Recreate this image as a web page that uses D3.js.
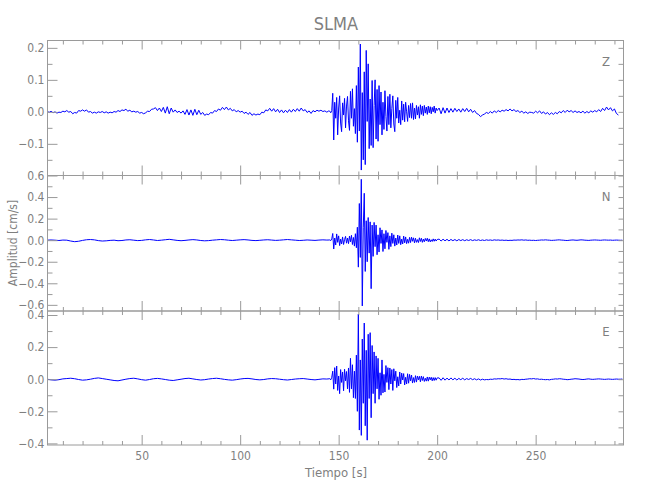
<!DOCTYPE html>
<html>
<head>
<meta charset="utf-8">
<script src="https://cdn.jsdelivr.net/npm/d3@7"></script>
<style>
  html, body { margin: 0; padding: 0; background: #fff; }
  svg { display: block; }
  text { font-family: "Liberation Sans Narrow", "DejaVu Sans Condensed", "Noto Sans", sans-serif; fill: #7f7f7f; }
</style>
</head>
<body>
<svg id="chart" width="650" height="500"></svg>
<script>
// ---------------- DATA ----------------
const title = "SLMA";
const components = ["Z", "N", "E"];
const xLabel = "Tiempo [s]";
const yLabel = "Amplitud [cm/s]";

const xMajorTicks = [50, 100, 150, 200, 250];
const xMinorTicks = [10, 20, 30, 40, 60, 70, 80, 90, 110, 120, 130, 140, 160, 170, 180, 190, 210, 220, 230, 240, 260, 270, 280, 290];

const zMajorTicks = [-0.1, 0.0, 0.1, 0.2];
const zMinorTicks = [-0.15, -0.05, 0.05, 0.15];
const nMajorTicks = [-0.6, -0.4, -0.2, 0.0, 0.2, 0.4, 0.6];
const nMinorTicks = [-0.5, -0.3, -0.1, 0.1, 0.3, 0.5];
const eMajorTicks = [-0.4, -0.2, 0.0, 0.2, 0.4];
const eMinorTicks = [-0.3, -0.1, 0.1, 0.3];

const timeDomain = [2.2, 294.6];
const zRange = [-0.199, 0.223];
const nRange = [-0.657, 0.6];
const eRange = [-0.41, 0.425];

// segment sampling [start time, step] for quiet / burst / coda
const zSegments = [[2, 1], [145.5, 0.5], [201, 1]];
const nSegments = [[2, 2], [145.5, 0.5], [201, 1]];
const eSegments = [[2, 2], [145.5, 0.5], [201, 1]];

const zQuiet = [.003,-.002,.002,-.003,.000,-.004,-.001,-.002,.002,.000,.004,-.001,.001,-.006,-.002,-.004,.004,.002,.006,.002,
.006,-.001,.001,-.004,-.001,-.004,.000,-.002,.001,-.003,.000,-.004,-.001,-.003,.001,-.001,.004,.001,.006,.004,
.008,.002,.005,.000,.002,-.001,.001,-.004,-.002,-.006,-.003,.002,.001,.008,.009,.013,.004,.012,.001,.014,
-.004,.016,-.006,.012,-.001,.006,-.002,.002,-.004,.003,-.008,.007,-.010,.006,-.011,.008,-.009,.005,-.008,-.002,
-.011,-.007,-.009,-.002,-.004,.004,.001,.009,.005,.014,.007,.015,.006,.011,.003,.007,.000,.004,-.001,.002,
-.005,-.001,-.008,-.002,-.011,-.006,-.010,-.007,-.009,-.001,-.003,.006,.003,.011,.002,.010,.000,.008,-.002,.006,
-.003,.005,-.002,.007,-.001,.008,.001,.010,.002,.012,.003,.007,-.002,.003,-.005,.004,.000,.005,.002,.005,.001,.003,-.001,.003];
const zBurst = [.002,-.003,.004,
.058,-.088,.030,-.020,.045,-.072,.012,.050,
-.035,-.062,.028,-.010,.042,-.050,.018,.048,
-.028,-.058,.064,-.020,.072,-.045,.010,-.068,
.082,-.095,.140,-.060,.212,-.182,.060,-.150,
.125,-.165,.192,-.030,.150,-.115,.040,-.105,
.098,-.112,.020,.100,-.085,.070,-.092,.082,
-.040,.062,-.072,.030,-.055,.066,-.015,-.060,
.048,-.040,.055,-.050,.010,.050,-.038,-.062,
.036,-.020,.045,-.035,.005,-.040,.034,-.026,
.024,-.031,.030,.000,-.030,.020,-.018,.026,
-.020,.028,-.024,.012,-.022,.020,-.010,.016,
-.020,.022,-.008,.018,-.012,.020,-.004,.015,
-.008,.018,-.003,.016,-.006,.014,.000,.018,
-.004,.012,.004];
const zCoda = [.012,-.006,.013,-.004,.012,-.002,.010,-.001,.011,.001,
.009,-.001,.010,.001,.011,.000,.008,-.002,.004,-.005,
-.008,-.015,-.010,-.007,-.002,-.005,.001,-.004,.003,-.002,
.004,.000,.005,.002,.007,.003,.009,.003,.007,.001,
.004,-.002,.002,-.004,.000,-.005,-.001,-.002,-.004,.002,
-.003,.003,-.005,.000,-.007,-.002,-.009,-.003,-.008,-.002,
-.006,.001,-.003,.004,-.002,.005,.000,.004,-.002,.003,
-.002,.001,-.003,.002,-.004,.001,-.003,.003,-.001,.004,
.000,.007,.001,.011,.004,.015,.006,.013,.003,.009,-.005,-.010];

const nQuiet = [.000,.002,.000,-.003,.001,.000,-.008,-.014,-.010,-.002,.004,.006,.003,-.004,-.008,-.006,-.002,.000,
-.005,-.003,.002,.004,.000,-.004,-.002,.003,.006,.002,-.003,.000,.004,.008,.003,-.002,-.005,-.002,
.002,.005,.002,-.003,-.006,-.004,.000,.003,.006,.004,.000,-.003,.000,.003,.005,.002,-.002,-.004,
-.001,.002,.004,.001,-.002,.000,.003,.006,.003,.000,-.003,-.001,.002,.000,-.002,.001,.003,.001];
const nBurst = [.002,-.004,.012,
.062,-.082,.020,-.045,.058,-.020,.040,-.050,
.010,-.035,.030,-.040,.005,.035,-.028,.020,
-.032,.038,-.015,.045,-.040,.025,-.055,.060,
-.070,.120,-.250,.340,-.160,.565,-.610,.120,
.435,-.290,.180,-.200,.210,-.120,.170,-.450,
.140,-.150,.165,-.060,.140,-.135,.050,-.110,
.115,-.030,.095,-.105,.060,-.080,.090,-.020,
.070,-.085,.040,-.060,.065,-.030,.050,-.055,
.020,-.045,.048,-.030,.040,-.042,.010,-.035,
.038,-.025,.030,-.032,.008,-.028,.026,-.022,
.028,-.010,.022,-.025,.018,-.020,.005,-.022,
.022,-.012,.018,-.020,.010,-.015,.016,-.008,
.018,-.014,.012,-.016,.004,-.012,.012,-.010,
.010,-.008,.006];
const nCoda = [.010,-.008,.009,-.006,.008,-.007,.007,-.005,.006,-.006,
.006,-.004,.005,-.005,.004,-.003,.005,-.004,.003,-.002,
.004,-.003,.002,-.003,.003,-.001,.002,-.002,.003,.000,
.002,-.001,.001,-.002,.000,-.003,-.001,-.002,.001,.000,
.002,.001,.003,.000,.002,-.001,.000,-.002,-.001,-.003,
-.001,.000,.002,.001,.003,.001,.000,-.002,-.001,.000,
.002,.003,.001,.000,-.002,-.003,-.001,.001,.002,.000,
-.001,.001,.003,.002,.000,-.001,-.002,.000,.001,.002,
.001,.000,-.001,.001,.002,.001,.000,.001,-.001,.000,.001,.000,-.001,.000];

const eQuiet = [.000,-.004,-.006,-.003,.002,.004,.006,.003,-.002,-.006,-.004,.000,.005,.008,.004,.000,-.004,-.008,
-.010,-.005,.000,.004,.006,.002,-.003,-.006,-.002,.003,.005,.002,-.002,-.006,-.008,-.004,.000,.004,
.006,.002,-.002,-.005,-.003,.001,.004,.006,.003,-.001,-.004,-.006,-.003,.001,.004,.005,.002,-.002,
-.004,-.002,.002,.004,.003,.000,-.003,-.005,-.002,.001,.003,.004,.001,-.002,-.004,-.001,.002,.001];
const eBurst = [.003,-.004,.012,
.050,-.062,.072,-.030,.082,-.070,.020,-.090,
.060,-.020,.045,-.072,.062,-.010,.048,-.060,
.070,-.082,.130,-.060,.090,-.115,.050,-.120,
.150,-.200,.406,-.317,.120,-.350,.250,-.150,
.350,-.290,.180,-.380,.280,-.120,.290,-.240,
.210,-.090,.170,-.150,.145,-.060,.130,-.125,
.040,-.100,.120,-.085,.030,-.080,.085,-.020,
.072,-.065,.070,-.030,.060,-.070,.065,-.010,
.050,-.052,.015,-.042,.045,-.030,.038,-.005,
.035,-.036,.012,-.030,.034,-.025,.030,-.010,
.026,-.024,.010,-.020,.022,-.018,.020,-.004,
.018,-.016,.020,-.008,.016,-.014,.006,-.012,
.014,-.012,.013,-.004,.012,-.010,.010,-.008,
.010,-.006,.008];
const eCoda = [.008,-.007,.009,-.006,.007,-.005,.008,-.004,.006,-.005,
.005,-.003,.006,-.004,.004,-.002,.005,-.003,.003,-.004,
.002,-.005,.000,-.004,-.002,-.003,.000,-.001,.002,.001,
.003,.002,.004,.001,.003,.000,.001,-.002,-.001,-.003,
-.002,-.004,-.001,-.002,.000,.001,.003,.002,.004,.001,
.002,-.001,.000,-.002,-.003,-.002,-.004,-.001,.000,.002,
.001,.003,.002,.000,-.001,-.003,-.002,.000,.001,.003,
.002,.001,-.001,-.002,-.001,.001,.002,.000,-.001,.000,
.001,.002,.001,.000,-.001,.000,.001,.000,-.001,.000,.001,.000,.000,.001];

// ---------------- DRAW ----------------
const svg = d3.select("#chart");
const axisColor = "#9a9a9a";
const textColor = "#808080";
const left = 47.5, right = 623.5;
const x = d3.scaleLinear().domain(timeDomain).range([left, right]);

function buildSeries(segments, parts) {
  const pts = [];
  segments.forEach(([t0, dt], k) => {
    parts[k].forEach((v, i) => pts.push([t0 + i * dt, v]));
  });
  return pts;
}

const panels = [
  { name: components[0], top: 40.5, bottom: 175.5, domain: zRange, major: zMajorTicks, minor: zMinorTicks,
    data: buildSeries(zSegments, [zQuiet, zBurst, zCoda]), labelY: 61 },
  { name: components[1], top: 175.5, bottom: 311, domain: nRange, major: nMajorTicks, minor: nMinorTicks,
    data: buildSeries(nSegments, [nQuiet, nBurst, nCoda]), labelY: 196 },
  { name: components[2], top: 311, bottom: 445, domain: eRange, major: eMajorTicks, minor: eMinorTicks,
    data: buildSeries(eSegments, [eQuiet, eBurst, eCoda]), labelY: 331.5 }
];

const fmt = d3.format(".1f");

function styleAxis(g) {
  g.select(".domain").remove();
  g.selectAll(".tick line").attr("stroke", axisColor).attr("stroke-width", 1);
  g.selectAll(".tick text").attr("fill", textColor).style("font-size", "12px")
    .style("font-family", '"Liberation Sans Narrow", "DejaVu Sans Condensed", sans-serif');
}

panels.forEach((p, idx) => {
  const y = d3.scaleLinear().domain(p.domain).range([p.bottom, p.top]);
  const isLast = idx === panels.length - 1;

  // trace
  svg.append("path")
    .datum(p.data)
    .attr("fill", "none")
    .attr("stroke", "#0000ff")
    .attr("stroke-width", 1)
    .attr("stroke-linejoin", "round")
    .attr("d", d3.line().x(d => x(d[0])).y(d => y(d[1])));

  // left axis: minor + major (inward ticks)
  svg.append("g").attr("transform", `translate(${left},0)`)
    .call(d3.axisLeft(y).tickValues(p.minor).tickSize(-5).tickFormat(""))
    .call(styleAxis);
  svg.append("g").attr("transform", `translate(${left},0)`)
    .call(d3.axisLeft(y).tickValues(p.major).tickSize(-10).tickPadding(3).tickFormat(fmt))
    .call(styleAxis);
  // right axis
  svg.append("g").attr("transform", `translate(${right},0)`)
    .call(d3.axisRight(y).tickValues(p.major.concat(p.minor)).tickSize(-5).tickFormat(""))
    .call(styleAxis);
  // top axis
  svg.append("g").attr("transform", `translate(0,${p.top})`)
    .call(d3.axisTop(x).tickValues(xMinorTicks).tickSize(-4).tickFormat(""))
    .call(styleAxis);
  svg.append("g").attr("transform", `translate(0,${p.top})`)
    .call(d3.axisTop(x).tickValues(xMajorTicks).tickSize(-9).tickFormat(""))
    .call(styleAxis);
  // bottom axis
  svg.append("g").attr("transform", `translate(0,${p.bottom})`)
    .call(d3.axisBottom(x).tickValues(xMinorTicks).tickSize(-4).tickFormat(""))
    .call(styleAxis);
  svg.append("g").attr("transform", `translate(0,${p.bottom})`)
    .call(d3.axisBottom(x).tickValues(xMajorTicks).tickSize(-10).tickPadding(6)
      .tickFormat(isLast ? d3.format("d") : ""))
    .call(styleAxis);

  // frame
  svg.append("rect")
    .attr("x", left).attr("y", p.top)
    .attr("width", right - left).attr("height", p.bottom - p.top)
    .attr("fill", "none").attr("stroke", axisColor).attr("stroke-width", 1);

  // component label
  svg.append("text")
    .attr("x", 606).attr("y", p.labelY)
    .attr("text-anchor", "middle").attr("dominant-baseline", "central")
    .attr("fill", textColor)
    .style("font-size", "13px")
    .text(p.name);
});

// title
svg.append("text")
  .attr("x", 336).attr("y", 23)
  .attr("text-anchor", "middle").attr("dominant-baseline", "central")
  .attr("fill", textColor)
  .style("font-size", "18px")
  .text(title);

// axis titles
svg.append("text")
  .attr("x", 336).attr("y", 472)
  .attr("text-anchor", "middle").attr("dominant-baseline", "central")
  .attr("fill", textColor)
  .style("font-size", "13px")
  .text(xLabel);

svg.append("text")
  .attr("transform", "translate(13,243) rotate(-90)")
  .attr("text-anchor", "middle").attr("dominant-baseline", "central")
  .attr("fill", textColor)
  .style("font-size", "12px")
  .text(yLabel);
</script>
</body>
</html>
